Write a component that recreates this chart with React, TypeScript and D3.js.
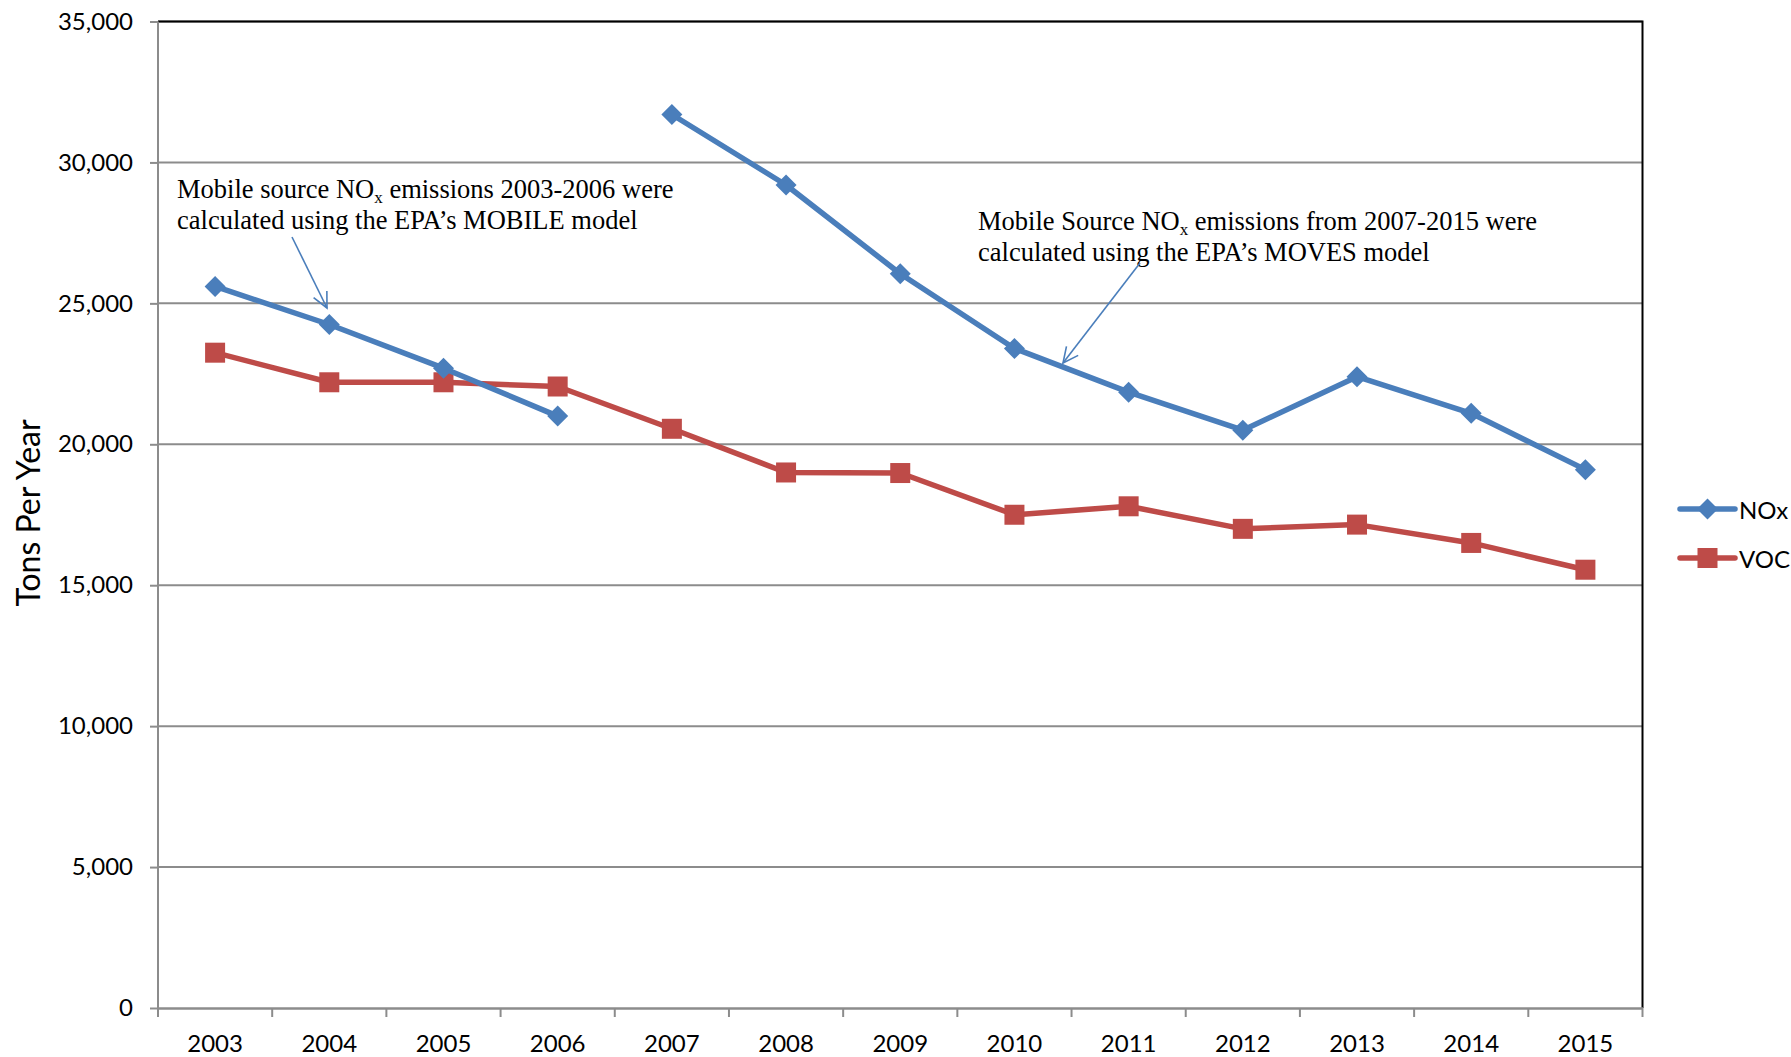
import { useEffect, useRef } from 'react'
import * as d3 from 'd3'

const W = 1791, H = 1057
const M = { top: 21.5, right: 148.5, bottom: 49, left: 158 }

const years = ['2003', '2004', '2005', '2006', '2007', '2008', '2009', '2010', '2011', '2012', '2013', '2014', '2015']
// NOx is two separate runs: MOBILE model (2003-2006) and MOVES model (2007-2015)
const noxMobileYears = ['2003', '2004', '2005', '2006']
const noxMobile = [25600, 24250, 22700, 21000]
const noxMovesYears = ['2007', '2008', '2009', '2010', '2011', '2012', '2013', '2014', '2015']
const noxMoves = [31700, 29200, 26050, 23400, 21850, 20500, 22400, 21100, 19100]
const voc = [23250, 22200, 22200, 22050, 20550, 19000, 18980, 17500, 17800, 17000, 17150, 16500, 15550]
const yTicks = [0, 5000, 10000, 15000, 20000, 25000, 30000, 35000]

const BLUE = '#4a7ebb'
const RED = '#be4b48'
const GRID = '#8c8c8c'
const SANS = 'Lato, "Liberation Sans", sans-serif'
const SERIF = '"Liberation Serif", "Times New Roman", serif'

export default function App() {
  const svgRef = useRef<SVGSVGElement>(null)

  useEffect(() => {
    const svg = d3.select(svgRef.current!)
    svg.selectAll('*').remove()

    const x0 = M.left, x1 = W - M.right
    const y0 = H - M.bottom, y1 = M.top

    const x = d3.scaleBand<string>().domain(years).range([x0, x1]).padding(0)
    const cx = (yr: string) => x(yr)! + x.bandwidth() / 2
    const y = d3.scaleLinear().domain([0, 35000]).range([y0, y1])

    // gridlines
    svg.append('g').selectAll('line').data(yTicks.slice(1)).join('line')
      .attr('x1', x0).attr('x2', x1)
      .attr('y1', d => y(d)).attr('y2', d => y(d))
      .attr('stroke', GRID).attr('stroke-width', 2)

    // plot border top + right
    svg.append('path')
      .attr('d', `M${x0},${y(35000)}H${x1}V${y0}`)
      .attr('fill', 'none').attr('stroke', '#000').attr('stroke-width', 2)

    // y axis
    const ya = svg.append('g').attr('transform', `translate(${x0},0)`)
      .call(d3.axisLeft(y).tickValues(yTicks).tickSize(8).tickPadding(17).tickFormat(d => d3.format(',')(+d)))
    ya.select('.domain').attr('stroke', GRID).attr('stroke-width', 2).attr('d', `M0,${y0}V${y1}`)
    ya.selectAll('.tick line').attr('stroke', GRID).attr('stroke-width', 2)
    ya.selectAll('.tick text').attr('font-size', 24).attr('font-family', SANS).attr('fill', '#000')

    // x axis
    const xa = svg.append('g').attr('transform', `translate(0,${y0})`)
      .call(d3.axisBottom(x).tickSize(0).tickPadding(27))
    xa.select('.domain').attr('stroke', GRID).attr('stroke-width', 2.5)
    xa.selectAll('.tick text').attr('font-size', 24).attr('font-family', SANS).attr('fill', '#000')
    svg.append('g').selectAll('line').data(years.concat(['end'])).join('line')
      .attr('x1', (d, i) => x0 + i * x.bandwidth()).attr('x2', (d, i) => x0 + i * x.bandwidth())
      .attr('y1', y0).attr('y2', y0 + 9)
      .attr('stroke', GRID).attr('stroke-width', 2)

    // y axis title
    svg.append('text')
      .attr('transform', `translate(27,513) rotate(-90)`)
      .attr('text-anchor', 'middle').attr('dominant-baseline', 'central')
      .attr('font-size', 32).attr('font-family', SANS).attr('fill', '#000')
      .text('Tons Per Year')

    const line = d3.line<[string, number]>().x(d => cx(d[0])).y(d => y(d[1]))
    const diamond = (g: d3.Selection<SVGGElement, unknown, null, undefined>, pts: [number, number][]) =>
      g.selectAll('path.m').data(pts).join('path').attr('class', 'm')
        .attr('d', d => `M${d[0]},${d[1] - 10.5}L${d[0] + 10.5},${d[1]}L${d[0]},${d[1] + 10.5}L${d[0] - 10.5},${d[1]}Z`)
        .attr('fill', BLUE)
    const square = (g: d3.Selection<SVGGElement, unknown, null, undefined>, pts: [number, number][]) =>
      g.selectAll('rect.m').data(pts).join('rect').attr('class', 'm')
        .attr('x', d => d[0] - 10).attr('y', d => d[1] - 10).attr('width', 20).attr('height', 20)
        .attr('fill', RED)

    // VOC
    const vocPts = years.map((yr, i) => [yr, voc[i]] as [string, number])
    const gv = svg.append('g')
    gv.append('path').datum(vocPts).attr('d', line).attr('fill', 'none')
      .attr('stroke', RED).attr('stroke-width', 5.5).attr('stroke-linejoin', 'round')
    square(gv, vocPts.map(d => [cx(d[0]), y(d[1])]))

    // NOx
    const gn = svg.append('g')
    ;[[noxMobileYears, noxMobile], [noxMovesYears, noxMoves]].forEach(([ys, vs]) => {
      const pts = (ys as string[]).map((yr, i) => [yr, (vs as number[])[i]] as [string, number])
      gn.append('path').datum(pts).attr('d', line).attr('fill', 'none')
        .attr('stroke', BLUE).attr('stroke-width', 5.5).attr('stroke-linejoin', 'round')
    })
    const noxAll = [...noxMobileYears.map((yr, i) => [cx(yr), y(noxMobile[i])] as [number, number]),
      ...noxMovesYears.map((yr, i) => [cx(yr), y(noxMoves[i])] as [number, number])]
    diamond(gn, noxAll)

    // annotations
    const note = (tx: number, ty: number, pre: string, post: string, line2: string) => {
      const t = svg.append('text').attr('font-family', SERIF).attr('font-size', 26.5).attr('fill', '#000')
      const l1 = t.append('tspan').attr('x', tx).attr('y', ty)
      l1.append('tspan').text(pre)
      l1.append('tspan').attr('font-size', 17).attr('dy', 5).text('x')
      l1.append('tspan').attr('dy', -5).text(post)
      t.append('tspan').attr('x', tx).attr('y', ty + 31).text(line2)
    }
    note(177, 197.5, 'Mobile source NO', ' emissions 2003-2006 were', 'calculated using the EPA\u2019s MOBILE model')
    note(978, 230, 'Mobile Source NO', ' emissions from 2007-2015 were', 'calculated using the EPA\u2019s MOVES model')

    const arrow = (ax: number, ay: number, bx: number, by: number) => {
      const a = Math.atan2(by - ay, bx - ax)
      const L = 17, s = 0.45
      const g = svg.append('g').attr('stroke', BLUE).attr('stroke-width', 1.6).attr('fill', 'none')
      g.append('line').attr('x1', ax).attr('y1', ay).attr('x2', bx).attr('y2', by)
      g.append('path').attr('d',
        `M${bx - L * Math.cos(a - s)},${by - L * Math.sin(a - s)}L${bx},${by}L${bx - L * Math.cos(a + s)},${by - L * Math.sin(a + s)}`)
    }
    arrow(292, 237, 327, 308)
    arrow(1140, 263, 1063, 363)

    // legend
    const leg = [
      { label: 'NOx', color: BLUE, kind: 'diamond', y: 509 },
      { label: 'VOC', color: RED, kind: 'square', y: 558 },
    ]
    leg.forEach(l => {
      const g = svg.append('g')
      g.append('line').attr('x1', 1680).attr('x2', 1735).attr('y1', l.y).attr('y2', l.y)
        .attr('stroke', l.color).attr('stroke-width', 5.5).attr('stroke-linecap', 'round')
      if (l.kind === 'diamond') diamond(g, [[1707.5, l.y]])
      else square(g, [[1707.5, l.y]])
      g.append('text').attr('x', 1739).attr('y', l.y).attr('dominant-baseline', 'central')
        .attr('font-size', 24).attr('font-family', SANS).attr('fill', '#000').text(l.label)
    })
  }, [])

  return <svg ref={svgRef} width={W} height={H} viewBox={`0 0 ${W} ${H}`}
    style={{ position: 'absolute', left: 0, top: 0, background: '#fff' }} />
}
